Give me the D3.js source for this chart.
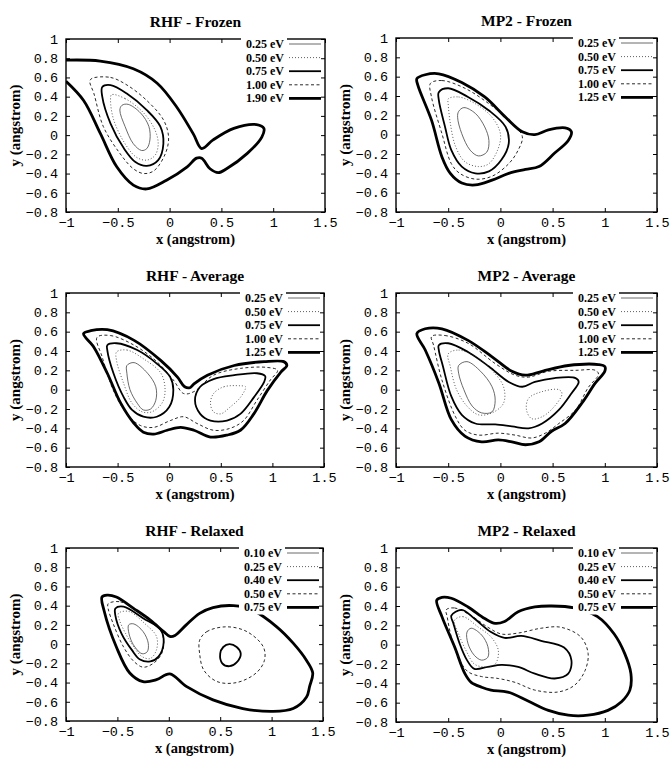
<!DOCTYPE html>
<html>
<head>
<meta charset="utf-8">
<script src="https://cdn.jsdelivr.net/npm/d3@7"></script>
<style>
  body { margin: 0; background: #fff; }
  svg { display: block; }
</style>
</head>
<body>
<div id="chart"></div>
<script>
// axis ticks shared by all six panels
const xTicks = [-1, -0.5, 0, 0.5, 1, 1.5];
const yTicks = [-0.8, -0.6, -0.4, -0.2, 0, 0.2, 0.4, 0.6, 0.8, 1];

const panelTitles = ['RHF - Frozen', 'MP2 - Frozen', 'RHF - Average', 'MP2 - Average', 'RHF - Relaxed', 'MP2 - Relaxed'];

const levelsFrozenRHF = ['0.25 eV', '0.50 eV', '0.75 eV', '1.00 eV', '1.90 eV'];
const levelsFrozenMP2 = ['0.25 eV', '0.50 eV', '0.75 eV', '1.00 eV', '1.25 eV'];
const levelsAverage = ['0.25 eV', '0.50 eV', '0.75 eV', '1.00 eV', '1.25 eV'];
const levelsRelaxed = ['0.10 eV', '0.25 eV', '0.40 eV', '0.50 eV', '0.75 eV'];

// contours: lv = index into the level list, open = runs off the frame
const rhfFrozen = [
  {lv: 4, open: true, pts: [[-1,0.78],[-0.67,0.77],[-0.35,0.69],[-0.12,0.54],[0.07,0.29],[0.23,0.01],[0.31,-0.14],[0.42,-0.05],[0.62,0.07],[0.84,0.11],[0.91,0.07],[0.89,-0.02],[0.75,-0.19],[0.55,-0.35],[0.47,-0.39],[0.39,-0.35],[0.31,-0.24],[0.26,-0.24],[0.17,-0.33],[-0.03,-0.47],[-0.22,-0.56],[-0.35,-0.52],[-0.51,-0.33],[-0.67,0.02],[-0.83,0.36],[-1,0.56]]},
  {lv: 3, pts: [[-0.75,0.59],[-0.57,0.60],[-0.41,0.52],[-0.22,0.36],[-0.06,0.16],[-0.01,-0.02],[-0.04,-0.19],[-0.15,-0.37],[-0.25,-0.40],[-0.35,-0.35],[-0.48,-0.19],[-0.64,0.09],[-0.73,0.43],[-0.77,0.56]]},
  {lv: 2, pts: [[-0.65,0.50],[-0.57,0.52],[-0.41,0.43],[-0.22,0.26],[-0.09,0.09],[-0.06,-0.09],[-0.11,-0.26],[-0.22,-0.32],[-0.33,-0.28],[-0.44,-0.14],[-0.57,0.12],[-0.65,0.40]]},
  {lv: 1, pts: [[-0.56,0.42],[-0.43,0.38],[-0.25,0.23],[-0.14,0.05],[-0.11,-0.09],[-0.14,-0.21],[-0.22,-0.26],[-0.32,-0.23],[-0.43,-0.09],[-0.54,0.16],[-0.57,0.36]]},
  {lv: 0, pts: [[-0.46,0.31],[-0.40,0.32],[-0.28,0.23],[-0.20,0.09],[-0.19,-0.05],[-0.22,-0.14],[-0.27,-0.16],[-0.35,-0.09],[-0.43,0.09],[-0.48,0.26]]}
];

const mp2Frozen = [
  {lv: 4, pts: [[-0.80,0.58],[-0.72,0.62],[-0.59,0.63],[-0.37,0.54],[-0.15,0.39],[0.05,0.18],[0.21,0.03],[0.33,0.0],[0.46,0.05],[0.62,0.07],[0.68,0.03],[0.65,-0.06],[0.52,-0.19],[0.37,-0.33],[0.24,-0.36],[0.08,-0.40],[-0.08,-0.47],[-0.24,-0.52],[-0.37,-0.50],[-0.48,-0.40],[-0.56,-0.23],[-0.66,0.15],[-0.79,0.51]]},
  {lv: 3, pts: [[-0.67,0.53],[-0.56,0.56],[-0.34,0.48],[-0.11,0.32],[0.11,0.12],[0.21,-0.02],[0.17,-0.16],[0.08,-0.30],[-0.08,-0.43],[-0.24,-0.46],[-0.39,-0.40],[-0.47,-0.30],[-0.56,0.01],[-0.66,0.39]]},
  {lv: 2, pts: [[-0.59,0.44],[-0.50,0.48],[-0.31,0.39],[-0.11,0.25],[0.05,0.08],[0.08,-0.09],[0.01,-0.26],[-0.11,-0.38],[-0.24,-0.40],[-0.37,-0.33],[-0.47,-0.16],[-0.53,0.08],[-0.59,0.36]]},
  {lv: 1, pts: [[-0.50,0.37],[-0.40,0.39],[-0.24,0.32],[-0.08,0.18],[0.0,0.01],[-0.02,-0.14],[-0.11,-0.30],[-0.21,-0.33],[-0.34,-0.28],[-0.43,-0.12],[-0.48,0.12],[-0.50,0.32]]},
  {lv: 0, pts: [[-0.40,0.24],[-0.35,0.28],[-0.24,0.22],[-0.15,0.08],[-0.11,-0.06],[-0.13,-0.18],[-0.21,-0.22],[-0.29,-0.16],[-0.37,0.01],[-0.41,0.18]]}
];

const rhfAverage = [
  {lv: 4, pts: [[-0.83,0.58],[-0.76,0.61],[-0.60,0.62],[-0.34,0.51],[-0.08,0.30],[0.08,0.13],[0.15,0.03],[0.20,0.02],[0.24,0.06],[0.37,0.15],[0.63,0.25],[0.92,0.29],[1.11,0.29],[1.14,0.25],[1.08,0.18],[0.95,-0.01],[0.82,-0.25],[0.69,-0.42],[0.56,-0.47],[0.40,-0.49],[0.24,-0.42],[0.11,-0.39],[-0.02,-0.42],[-0.15,-0.46],[-0.25,-0.44],[-0.34,-0.35],[-0.47,-0.14],[-0.60,0.17],[-0.73,0.44]]},
  {lv: 3, pts: [[-0.70,0.54],[-0.57,0.56],[-0.34,0.46],[-0.12,0.29],[0.04,0.10],[0.14,-0.04],[0.24,-0.02],[0.43,0.15],[0.69,0.22],[0.95,0.23],[1.05,0.20],[0.98,0.10],[0.85,-0.11],[0.72,-0.32],[0.59,-0.40],[0.43,-0.42],[0.27,-0.35],[0.14,-0.28],[0.01,-0.32],[-0.15,-0.39],[-0.28,-0.37],[-0.41,-0.25],[-0.54,-0.01],[-0.65,0.34]]},
  {lv: 2, pts: [[-0.60,0.46],[-0.51,0.48],[-0.31,0.41],[-0.12,0.27],[0.01,0.13],[0.04,0.0],[0.0,-0.18],[-0.12,-0.28],[-0.25,-0.28],[-0.36,-0.21],[-0.44,-0.08],[-0.54,0.17],[-0.60,0.41]]},
  {lv: 2, pts: [[0.30,0.03],[0.43,0.11],[0.63,0.15],[0.85,0.17],[0.93,0.14],[0.92,0.08],[0.82,-0.08],[0.69,-0.25],[0.56,-0.32],[0.40,-0.32],[0.30,-0.25],[0.25,-0.11]]},
  {lv: 1, pts: [[-0.51,0.39],[-0.41,0.41],[-0.25,0.32],[-0.08,0.17],[-0.04,-0.01],[-0.07,-0.14],[-0.17,-0.23],[-0.26,-0.23],[-0.36,-0.14],[-0.44,0.06],[-0.51,0.30]]},
  {lv: 1, pts: [[0.43,-0.04],[0.53,0.03],[0.69,0.04],[0.74,0.03],[0.69,-0.08],[0.59,-0.18],[0.50,-0.25],[0.43,-0.23],[0.40,-0.14]]},
  {lv: 0, pts: [[-0.41,0.25],[-0.34,0.28],[-0.21,0.17],[-0.13,0.03],[-0.13,-0.11],[-0.18,-0.20],[-0.25,-0.21],[-0.31,-0.14],[-0.38,0.0],[-0.41,0.17]]}
];

const mp2Average = [
  {lv: 4, pts: [[-0.80,0.58],[-0.72,0.63],[-0.56,0.63],[-0.31,0.51],[-0.08,0.34],[0.11,0.19],[0.24,0.15],[0.40,0.19],[0.65,0.25],[0.94,0.26],[1.0,0.24],[1.0,0.19],[0.91,0.07],[0.78,-0.14],[0.62,-0.35],[0.49,-0.43],[0.37,-0.54],[0.24,-0.57],[0.11,-0.54],[-0.02,-0.52],[-0.18,-0.54],[-0.34,-0.48],[-0.47,-0.31],[-0.59,0.07],[-0.72,0.41]]},
  {lv: 3, pts: [[-0.66,0.55],[-0.53,0.56],[-0.31,0.48],[-0.05,0.27],[0.14,0.15],[0.27,0.13],[0.46,0.19],[0.72,0.20],[0.91,0.20],[0.94,0.16],[0.84,0.02],[0.72,-0.21],[0.56,-0.35],[0.43,-0.45],[0.30,-0.50],[0.14,-0.47],[-0.02,-0.45],[-0.21,-0.47],[-0.34,-0.42],[-0.43,-0.28],[-0.56,0.10],[-0.64,0.46]]},
  {lv: 2, pts: [[-0.59,0.46],[-0.50,0.48],[-0.31,0.39],[-0.11,0.24],[0.08,0.08],[0.21,0.03],[0.33,0.08],[0.52,0.12],[0.72,0.12],[0.75,0.08],[0.68,-0.04],[0.56,-0.21],[0.40,-0.35],[0.27,-0.40],[0.11,-0.38],[-0.05,-0.36],[-0.24,-0.35],[-0.37,-0.26],[-0.47,-0.07],[-0.55,0.24],[-0.59,0.41]]},
  {lv: 1, pts: [[-0.50,0.37],[-0.40,0.41],[-0.24,0.34],[-0.08,0.20],[0.03,0.03],[0.03,-0.14],[-0.08,-0.24],[-0.21,-0.26],[-0.32,-0.17],[-0.42,0.0],[-0.48,0.24]]},
  {lv: 1, pts: [[0.27,-0.09],[0.40,-0.02],[0.56,0.0],[0.59,-0.04],[0.52,-0.17],[0.40,-0.28],[0.30,-0.30],[0.25,-0.21]]},
  {lv: 0, pts: [[-0.40,0.25],[-0.32,0.29],[-0.19,0.19],[-0.08,0.03],[-0.05,-0.11],[-0.08,-0.23],[-0.18,-0.24],[-0.27,-0.17],[-0.35,0.0],[-0.40,0.17]]}
];

const rhfRelaxed = [
  {lv: 4, pts: [[-0.65,0.49],[-0.60,0.51],[-0.51,0.49],[-0.34,0.37],[-0.18,0.25],[-0.05,0.13],[0.01,0.08],[0.06,0.09],[0.17,0.20],[0.30,0.32],[0.43,0.38],[0.63,0.40],[0.82,0.35],[1.05,0.18],[1.21,0.01],[1.34,-0.17],[1.40,-0.30],[1.37,-0.44],[1.34,-0.55],[1.21,-0.67],[1.01,-0.70],[0.72,-0.67],[0.43,-0.58],[0.17,-0.44],[0.01,-0.31],[-0.12,-0.37],[-0.25,-0.39],[-0.38,-0.30],[-0.51,-0.03],[-0.63,0.35]]},
  {lv: 3, pts: [[-0.59,0.42],[-0.47,0.44],[-0.28,0.32],[-0.10,0.18],[-0.05,0.04],[-0.07,-0.10],[-0.15,-0.20],[-0.25,-0.24],[-0.34,-0.18],[-0.44,-0.03],[-0.54,0.21],[-0.59,0.37]]},
  {lv: 3, pts: [[0.30,0.04],[0.37,0.13],[0.56,0.18],[0.76,0.13],[0.92,-0.03],[0.93,-0.17],[0.85,-0.30],[0.66,-0.40],[0.47,-0.39],[0.34,-0.27],[0.30,-0.10]]},
  {lv: 2, pts: [[-0.52,0.37],[-0.44,0.39],[-0.25,0.27],[-0.08,0.15],[-0.05,0.02],[-0.10,-0.13],[-0.18,-0.18],[-0.28,-0.16],[-0.36,-0.06],[-0.46,0.11],[-0.52,0.30]]},
  {lv: 2, pts: [[0.50,-0.10],[0.53,-0.03],[0.59,0.0],[0.66,-0.03],[0.70,-0.10],[0.66,-0.19],[0.59,-0.23],[0.52,-0.20]]},
  {lv: 1, pts: [[-0.49,0.32],[-0.39,0.34],[-0.23,0.21],[-0.12,0.08],[-0.12,-0.06],[-0.18,-0.15],[-0.26,-0.13],[-0.34,-0.03],[-0.42,0.11],[-0.48,0.25]]},
  {lv: 0, pts: [[-0.39,0.20],[-0.34,0.21],[-0.25,0.13],[-0.20,0.01],[-0.21,-0.08],[-0.26,-0.10],[-0.33,-0.03],[-0.38,0.08]]}
];

const mp2Relaxed = [
  {lv: 4, pts: [[-0.61,0.46],[-0.56,0.49],[-0.47,0.48],[-0.31,0.39],[-0.15,0.27],[-0.05,0.22],[0.04,0.24],[0.17,0.34],[0.33,0.39],[0.49,0.40],[0.71,0.38],[0.93,0.29],[1.09,0.11],[1.19,-0.09],[1.25,-0.30],[1.24,-0.47],[1.16,-0.59],[1.03,-0.68],[0.84,-0.73],[0.65,-0.73],[0.46,-0.68],[0.26,-0.58],[0.07,-0.49],[-0.09,-0.47],[-0.18,-0.44],[-0.28,-0.39],[-0.34,-0.30],[-0.44,-0.02],[-0.56,0.29]]},
  {lv: 3, pts: [[-0.52,0.36],[-0.44,0.38],[-0.28,0.30],[-0.12,0.18],[0.01,0.11],[0.17,0.12],[0.39,0.17],[0.58,0.18],[0.77,0.08],[0.84,-0.09],[0.81,-0.27],[0.71,-0.42],[0.55,-0.49],[0.33,-0.47],[0.14,-0.39],[-0.02,-0.35],[-0.18,-0.33],[-0.31,-0.28],[-0.39,-0.16],[-0.47,0.08],[-0.51,0.29]]},
  {lv: 2, pts: [[-0.47,0.30],[-0.37,0.36],[-0.25,0.27],[-0.09,0.13],[0.04,0.07],[0.20,0.09],[0.39,0.04],[0.61,-0.03],[0.68,-0.16],[0.65,-0.30],[0.52,-0.35],[0.33,-0.30],[0.17,-0.23],[0.01,-0.21],[-0.12,-0.23],[-0.25,-0.25],[-0.32,-0.16],[-0.39,0.01],[-0.45,0.22]]},
  {lv: 1, pts: [[-0.44,0.25],[-0.36,0.29],[-0.21,0.18],[-0.09,0.08],[-0.02,-0.06],[-0.05,-0.20],[-0.15,-0.23],[-0.25,-0.20],[-0.32,-0.08],[-0.40,0.11]]},
  {lv: 0, pts: [[-0.32,0.13],[-0.28,0.17],[-0.18,0.10],[-0.12,-0.02],[-0.12,-0.13],[-0.18,-0.16],[-0.25,-0.11],[-0.31,0.01]]}
];

// line style per level index (thin, dotted, medium, dashed, thick)
const levelStyle = [
  {w: 0.8, dash: null, c: '#444'},
  {w: 0.8, dash: '1,2', c: '#333'},
  {w: 1.8, dash: null, c: '#000'},
  {w: 0.9, dash: '3,2.5', c: '#111'},
  {w: 2.8, dash: null, c: '#000'}
];

const panels = [
  {title: panelTitles[0], levels: levelsFrozenRHF, contours: rhfFrozen, left: 66, top: 39, w: 259, h: 173},
  {title: panelTitles[1], levels: levelsFrozenMP2, contours: mp2Frozen, left: 396, top: 38, w: 261, h: 174},
  {title: panelTitles[2], levels: levelsAverage, contours: rhfAverage, left: 66, top: 293, w: 258, h: 174},
  {title: panelTitles[3], levels: levelsAverage, contours: mp2Average, left: 396, top: 293, w: 261, h: 174},
  {title: panelTitles[4], levels: levelsRelaxed, contours: rhfRelaxed, left: 66, top: 548, w: 257, h: 173},
  {title: panelTitles[5], levels: levelsRelaxed, contours: mp2Relaxed, left: 396, top: 548, w: 261, h: 174}
];

const width = 670, height = 757;
const serif = '"Liberation Serif", "Times New Roman", serif';
const mono = '"Liberation Mono", "Courier New", monospace';

const svg = d3.select('#chart').append('svg')
  .attr('width', width)
  .attr('height', height);

panels.forEach((p, i) => {
  const x = d3.scaleLinear().domain([-1, 1.5]).range([p.left, p.left + p.w]);
  const y = d3.scaleLinear().domain([-0.8, 1]).range([p.top + p.h, p.top]);
  const g = svg.append('g');

  // clip so open contours stop at the frame
  g.append('clipPath').attr('id', 'clip' + i)
    .append('rect')
    .attr('x', p.left).attr('y', p.top)
    .attr('width', p.w).attr('height', p.h);

  // title
  g.append('text')
    .attr('x', p.left + p.w / 2)
    .attr('y', p.top - 12)
    .attr('text-anchor', 'middle')
    .attr('font-family', serif)
    .attr('font-weight', 'bold')
    .attr('font-size', '15.5px')
    .text(p.title);

  // axes (ticks inside, mirrored)
  const tickLen = 4;
  const axB = g.append('g').attr('transform', `translate(0,${p.top + p.h})`)
    .call(d3.axisBottom(x).tickValues(xTicks).tickSize(-tickLen).tickPadding(5)
      .tickFormat(d => d3.format('')(d).replace('-', '\u2212')));
  const axL = g.append('g').attr('transform', `translate(${p.left},0)`)
    .call(d3.axisLeft(y).tickValues(yTicks).tickSize(-tickLen).tickPadding(8)
      .tickFormat(d => String(+d.toFixed(1)).replace('-', '\u2212')));
  g.append('g').attr('transform', `translate(0,${p.top})`)
    .call(d3.axisTop(x).tickValues(xTicks).tickSize(-tickLen).tickFormat(''));
  g.append('g').attr('transform', `translate(${p.left + p.w},0)`)
    .call(d3.axisRight(y).tickValues(yTicks).tickSize(-tickLen).tickFormat(''));
  g.selectAll('.domain').remove();
  g.selectAll('.tick line').attr('stroke', '#000').attr('stroke-width', 1);
  [axB, axL].forEach(a => a.selectAll('text')
    .attr('font-family', mono)
    .attr('font-size', '13.5px')
    .attr('fill', '#000'));

  // frame
  g.append('rect')
    .attr('x', p.left).attr('y', p.top)
    .attr('width', p.w).attr('height', p.h)
    .attr('fill', 'none')
    .attr('stroke', '#000')
    .attr('stroke-width', 1.4);

  // axis labels
  g.append('text')
    .attr('x', p.left + p.w / 2)
    .attr('y', p.top + p.h + 32)
    .attr('text-anchor', 'middle')
    .attr('font-family', serif)
    .attr('font-weight', 'bold')
    .attr('font-size', '14.5px')
    .text('x (angstrom)');
  g.append('text')
    .attr('transform', `translate(${p.left - 46},${p.top + p.h / 2}) rotate(-90)`)
    .attr('text-anchor', 'middle')
    .attr('font-family', serif)
    .attr('font-weight', 'bold')
    .attr('font-size', '15px')
    .text('y (angstrom)');

  // contour curves
  const closedLine = d3.line().x(d => x(d[0])).y(d => y(d[1])).curve(d3.curveCatmullRomClosed.alpha(0.5));
  const openLine = d3.line().x(d => x(d[0])).y(d => y(d[1])).curve(d3.curveCatmullRom.alpha(0.5));
  g.append('g').attr('clip-path', `url(#clip${i})`)
    .selectAll('path')
    .data(p.contours)
    .join('path')
    .attr('d', d => (d.open ? openLine : closedLine)(d.pts))
    .attr('fill', 'none')
    .attr('stroke', d => levelStyle[d.lv].c)
    .attr('stroke-width', d => levelStyle[d.lv].w)
    .attr('stroke-dasharray', d => levelStyle[d.lv].dash)
    .attr('stroke-linejoin', 'round');

  // legend, top right inside the frame
  const lg = g.append('g');
  const lx = p.left + p.w - 36;
  const rowH = 13.6;
  p.levels.forEach((lab, k) => {
    const ly = p.top + 5 + k * rowH;
    const st = levelStyle[k];
    lg.append('rect')
      .attr('x', lx - 48).attr('y', ly - 6.5)
      .attr('width', 46).attr('height', rowH)
      .attr('fill', '#fff');
    lg.append('text')
      .attr('x', lx - 5)
      .attr('y', ly + 4)
      .attr('text-anchor', 'end')
      .attr('font-family', serif)
      .attr('font-weight', 'bold')
      .attr('font-size', '12px')
      .text(lab);
    lg.append('line')
      .attr('x1', lx).attr('x2', lx + 32)
      .attr('y1', ly).attr('y2', ly)
      .attr('stroke', st.c)
      .attr('stroke-width', st.w)
      .attr('stroke-dasharray', st.dash);
  });
});
</script>
</body>
</html>
